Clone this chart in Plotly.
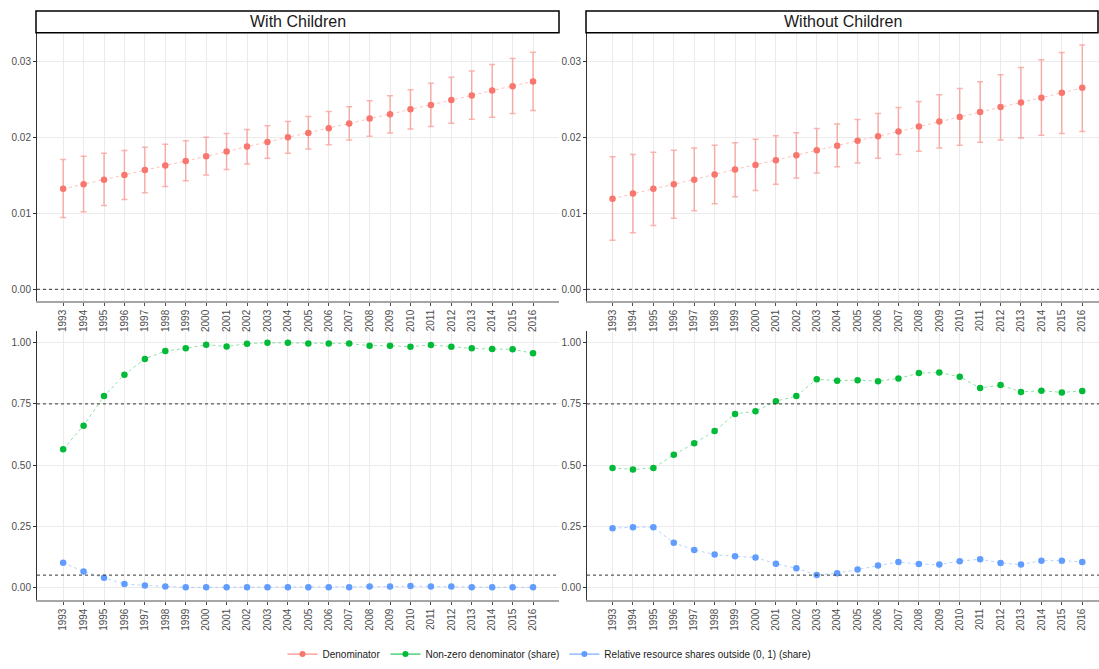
import plotly.graph_objects as go

years = list(range(1993, 2017))
year_labels = [str(y) for y in years]

# Denominator estimates with confidence bounds
with_den = [0.01322, 0.01382, 0.01443, 0.01504, 0.0157, 0.0163, 0.0169, 0.01752,
            0.01812, 0.01878, 0.01939, 0.0200, 0.02056, 0.02121, 0.02182, 0.02248,
            0.02304, 0.02369, 0.02425, 0.0249, 0.02551, 0.02617, 0.02673, 0.02734]
with_den_hi = [0.01708, 0.01752, 0.01791, 0.01826, 0.0187, 0.0191, 0.01956, 0.0200,
               0.02052, 0.02104, 0.02151, 0.02209, 0.02274, 0.02339, 0.02404, 0.02482,
               0.02547, 0.02626, 0.02712, 0.0279, 0.02874, 0.0296, 0.03038, 0.03121]
with_den_lo = [0.00944, 0.01022, 0.01104, 0.01183, 0.0127, 0.01352, 0.0143, 0.01504,
               0.01578, 0.01648, 0.01726, 0.01791, 0.01847, 0.01904, 0.01965, 0.02013,
               0.02056, 0.02108, 0.02143, 0.02186, 0.02239, 0.02265, 0.02313, 0.02352]

without_den = [0.01192, 0.01261, 0.01322, 0.01382, 0.01443, 0.01512, 0.01578, 0.01635,
               0.0170, 0.01765, 0.0183, 0.0189, 0.01956, 0.02013, 0.02078, 0.02143,
               0.02209, 0.02269, 0.02334, 0.02399, 0.0246, 0.02521, 0.02587, 0.02652]
without_den_hi = [0.01743, 0.01773, 0.01804, 0.0183, 0.0186, 0.01896, 0.0193, 0.01974,
                  0.02021, 0.0206, 0.02117, 0.02177, 0.02235, 0.02313, 0.02391, 0.02473,
                  0.0256, 0.02643, 0.0273, 0.02825, 0.0292, 0.03021, 0.03116, 0.03216]
without_den_lo = [0.00644, 0.00743, 0.0084, 0.00935, 0.01035, 0.01126, 0.01218, 0.0130,
                  0.01382, 0.01465, 0.01531, 0.01613, 0.01661, 0.01726, 0.01773, 0.01817,
                  0.0186, 0.01896, 0.01935, 0.01965, 0.01991, 0.02026, 0.02052, 0.02078]

# Shares
with_nonzero = [0.565, 0.661, 0.782, 0.869, 0.934, 0.966, 0.977, 0.992, 0.985, 0.996,
                1.0, 1.0, 0.997, 0.997, 0.997, 0.988, 0.988, 0.984, 0.991, 0.984,
                0.977, 0.974, 0.973, 0.957]
with_outside = [0.101, 0.065, 0.039, 0.0135, 0.008, 0.003, 0.0, 0.0, 0.0, 0.0,
                0.0, 0.0, 0.0, 0.0, 0.0, 0.003, 0.003, 0.005, 0.003, 0.003,
                0.0, 0.0, 0.0, 0.0]
without_nonzero = [0.488, 0.482, 0.488, 0.542, 0.589, 0.639, 0.709, 0.720, 0.761, 0.782,
                   0.851, 0.845, 0.847, 0.843, 0.854, 0.876, 0.878, 0.861, 0.815, 0.827,
                   0.799, 0.804, 0.797, 0.803]
without_outside = [0.242, 0.246, 0.246, 0.182, 0.153, 0.134, 0.127, 0.122, 0.096, 0.078,
                   0.050, 0.058, 0.073, 0.089, 0.104, 0.095, 0.093, 0.107, 0.115, 0.100,
                   0.093, 0.109, 0.109, 0.104]

panel_titles = ["With Children", "Without Children"]
series_names = ["Denominator", "Non-zero denominator (share)",
                "Relative resource shares outside (0, 1) (share)"]
top_ref_lines = [0.0]
bottom_ref_lines = [0.75, 0.05]

RED, GREEN, BLUE = "#F8766D", "#00BA38", "#619CFF"
RED_A = "rgba(248,118,109,0.55)"
RED_L = "rgba(248,118,109,0.45)"
GREEN_L = "rgba(0,186,56,0.45)"
BLUE_L = "rgba(97,156,255,0.45)"
W, H = 1099, 669


def px_x(p):
    return p / W


def px_y(p):
    return 1 - p / H


fig = go.Figure()

# panel geometry in pixels: (left, right) columns, (top, bottom) rows
cols = [(37, 559), (587, 1099)]
rows = [(33, 303.5), (334, 605)]
xranges = [[1991.72, 2017.27], [1991.75, 2016.82]]

axis_font = dict(family="Liberation Sans, Arial", size=10, color="#4D4D4D")

panels = [(0, 0, ""), (1, 0, "2"), (0, 1, "3"), (1, 1, "4")]

for c, r, s in panels:
    xl, xr = cols[c]
    yt, yb = rows[r]
    xa = dict(
        domain=[px_x(xl), px_x(xr)], anchor="y" + s, range=xranges[c],
        tickmode="array", tickvals=years, ticktext=year_labels, tickangle=-90,
        showgrid=True, gridcolor="#EBEBEB", gridwidth=1, zeroline=False,
        showline=True, linecolor="#A6A6A6", linewidth=2,
        ticks="outside", ticklen=3, tickcolor="#4D4D4D", tickfont=axis_font,
    )
    if r == 0:
        ya = dict(range=[-0.00151, 0.03377], tickvals=[0.0, 0.01, 0.02, 0.03],
                  ticktext=["0.00", "0.01", "0.02", "0.03"])
    else:
        ya = dict(range=[-0.05, 1.048], tickvals=[0.0, 0.25, 0.5, 0.75, 1.0],
                  ticktext=["0.00", "0.25", "0.50", "0.75", "1.00"])
    ya.update(
        domain=[px_y(yb), px_y(yt)], anchor="x" + s,
        showgrid=True, gridcolor="#EBEBEB", gridwidth=1, zeroline=False,
        showline=True, linecolor="#333333", linewidth=1,
        ticks="outside", ticklen=3, tickcolor="#333333", tickfont=axis_font,
    )
    fig.update_layout(**{"xaxis" + s: xa, "yaxis" + s: ya})

# denominator panels
for den, hi, lo, s in [
    (with_den, with_den_hi, with_den_lo, ""),
    (without_den, without_den_hi, without_den_lo, "2"),
]:
    fig.add_trace(go.Scatter(
        x=years, y=den, mode="lines",
        line=dict(color=RED_L, width=1, dash="3px,3px"),
        showlegend=False, hoverinfo="skip",
        xaxis="x" + s, yaxis="y" + s,
    ))
    fig.add_trace(go.Scatter(
        x=years, y=den, mode="markers",
        marker=dict(color=RED, size=6.5),
        error_y=dict(type="data", symmetric=False,
                     array=[h - d for h, d in zip(hi, den)],
                     arrayminus=[d - l for d, l in zip(den, lo)],
                     color=RED_A, thickness=1.5, width=3),
        name=series_names[0], showlegend=False,
        xaxis="x" + s, yaxis="y" + s,
    ))

# share panels
for nz, out, s in [
    (with_nonzero, with_outside, "3"),
    (without_nonzero, without_outside, "4"),
]:
    for vals, col, coll, nm in [(nz, GREEN, GREEN_L, series_names[1]),
                                (out, BLUE, BLUE_L, series_names[2])]:
        fig.add_trace(go.Scatter(
            x=years, y=vals, mode="lines",
            line=dict(color=coll, width=1, dash="3px,3px"),
            showlegend=False, hoverinfo="skip",
            xaxis="x" + s, yaxis="y" + s,
        ))
        fig.add_trace(go.Scatter(
            x=years, y=vals, mode="markers",
            marker=dict(color=col, size=6.5),
            name=nm, showlegend=False,
            xaxis="x" + s, yaxis="y" + s,
        ))

# legend entries
for nm, col in zip(series_names, [RED, GREEN, BLUE]):
    fig.add_trace(go.Scatter(
        x=[None], y=[None], mode="lines+markers", name=nm,
        marker=dict(color=col, size=6), line=dict(color=col, width=1),
        xaxis="x", yaxis="y",
    ))

shapes = []
# reference lines
for s, levels in [("", top_ref_lines), ("2", top_ref_lines),
                  ("3", bottom_ref_lines), ("4", bottom_ref_lines)]:
    for v in levels:
        shapes.append(dict(type="line", xref="x" + s + " domain", yref="y" + s,
                           x0=0, x1=1, y0=v, y1=v,
                           line=dict(color="#333333", width=1, dash="3px,3px")))

# facet strips
annotations = []
for (xl, xr), title in zip(cols, panel_titles):
    shapes.append(dict(type="rect", xref="paper", yref="paper",
                       x0=px_x(xl - 1), x1=px_x(min(xr, W - 1)),
                       y0=px_y(33), y1=px_y(11),
                       fillcolor="white", line=dict(color="black", width=1.5)))
    annotations.append(dict(text=title, xref="paper", yref="paper",
                            x=px_x((xl + xr) / 2), y=px_y(22),
                            xanchor="center", yanchor="middle", showarrow=False,
                            font=dict(family="Liberation Sans, Arial", size=16,
                                      color="#1A1A1A")))

fig.update_layout(
    width=W, height=H,
    margin=dict(l=0, r=0, t=0, b=0),
    paper_bgcolor="white", plot_bgcolor="white",
    shapes=shapes, annotations=annotations,
    showlegend=True,
    legend=dict(orientation="h", x=0.5, xanchor="center", y=px_y(660),
                yanchor="middle", font=dict(family="Liberation Sans, Arial",
                                            size=10, color="#1A1A1A"),
                itemwidth=30, tracegroupgap=0),
)

fig.write_html("out.html")
